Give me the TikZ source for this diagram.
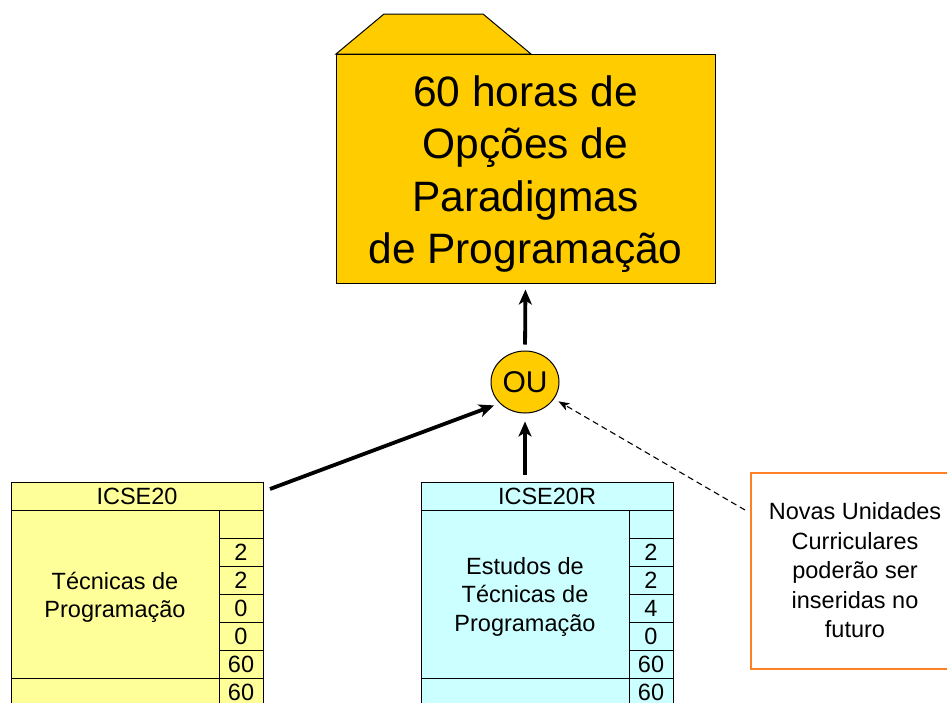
\documentclass[tikz,border=0pt]{standalone}
\usepackage{fontspec}
\setmainfont{Liberation Sans}
\usetikzlibrary{arrows.meta,shapes.geometric}
\definecolor{folderfill}{HTML}{FFCC00}
\definecolor{tabyellow}{HTML}{FFFF99}
\definecolor{tabcyan}{HTML}{CCFFFF}
\definecolor{noteorange}{HTML}{FF7F27}
\newcommand{\lowered}[2]{\raisebox{-#1}[\height][\depth]{\begin{tabular}{@{}c@{}}#2\end{tabular}}}
\tikzset{
  cellbox/.style={draw=black, line width=1pt, inner sep=0pt, align=center,
    font=\fontsize{23.5}{28.5}\selectfont},
  arr/.style={line width=3.8pt, -{Stealth[length=15pt,width=13pt,inset=4pt]}},
  darr/.style={line width=1.1pt, dash pattern=on 6pt off 4pt, -{Stealth[length=11pt,width=8pt,inset=3pt]}},
}
\begin{document}
\begin{tikzpicture}[x=1pt,y=-1pt]
\useasboundingbox (0,0) rectangle (947,702);
\clip (0,0) rectangle (947,702);
% folder
\draw[fill=folderfill, line width=1pt] (336,54) -- (384,14) -- (483,14) -- (531,54) -- cycle;
\node[draw=black, fill=folderfill, line width=1pt, minimum width=379pt, minimum height=229pt,
  inner sep=0pt, align=center, font=\fontsize{42.5}{52.5}\selectfont] (folder) at (525.5,168.5)
  {\lowered{6pt}{60 horas de\\Opções de\\Paradigmas\\de Programação}};
% OU
\node[ellipse, draw=black, fill=folderfill, line width=1pt, minimum width=68pt, minimum height=62pt,
  inner sep=0pt, font=\fontsize{30}{34}\selectfont] (ou) at (525,382) {OU};
% left table
\node[cellbox, fill=tabyellow, minimum width=252pt, minimum height=28pt] (h1) at (137,496) {ICSE20};
\node[cellbox, fill=tabyellow, minimum width=208pt, minimum height=168pt] (m1) at (115,594) {\lowered{4pt}{Técnicas de\\Programação}};
\node[cellbox, fill=tabyellow, minimum width=44pt, minimum height=28pt] (c10) at (241,524) {};
\node[cellbox, fill=tabyellow, minimum width=44pt, minimum height=28pt] (c11) at (241,552) {2};
\node[cellbox, fill=tabyellow, minimum width=44pt, minimum height=28pt] (c12) at (241,580) {2};
\node[cellbox, fill=tabyellow, minimum width=44pt, minimum height=28pt] (c13) at (241,608) {0};
\node[cellbox, fill=tabyellow, minimum width=44pt, minimum height=28pt] (c14) at (241,636) {0};
\node[cellbox, fill=tabyellow, minimum width=44pt, minimum height=28pt] (c15) at (241,664) {60};
\node[cellbox, fill=tabyellow, minimum width=208pt, minimum height=28pt] (b1) at (115,692) {};
\node[cellbox, fill=tabyellow, minimum width=44pt, minimum height=28pt] (c16) at (241,692) {60};
% right table
\node[cellbox, fill=tabcyan, minimum width=252pt, minimum height=28pt] (h2) at (547,496) {ICSE20R};
\node[cellbox, fill=tabcyan, minimum width=208pt, minimum height=168pt] (m2) at (525,594) {\lowered{3pt}{Estudos de\\Técnicas de\\Programação}};
\node[cellbox, fill=tabcyan, minimum width=44pt, minimum height=28pt] (c20) at (651,524) {};
\node[cellbox, fill=tabcyan, minimum width=44pt, minimum height=28pt] (c21) at (651,552) {2};
\node[cellbox, fill=tabcyan, minimum width=44pt, minimum height=28pt] (c22) at (651,580) {2};
\node[cellbox, fill=tabcyan, minimum width=44pt, minimum height=28pt] (c23) at (651,608) {4};
\node[cellbox, fill=tabcyan, minimum width=44pt, minimum height=28pt] (c24) at (651,636) {0};
\node[cellbox, fill=tabcyan, minimum width=44pt, minimum height=28pt] (c25) at (651,664) {60};
\node[cellbox, fill=tabcyan, minimum width=208pt, minimum height=28pt] (b2) at (525,692) {};
\node[cellbox, fill=tabcyan, minimum width=44pt, minimum height=28pt] (c26) at (651,692) {60};
% note
\node[draw=noteorange, line width=1.6pt, minimum width=208pt, minimum height=196pt, inner sep=0pt,
  align=center, font=\fontsize{23.5}{29.5}\selectfont] (note) at (855,571)
  {\lowered{2pt}{Novas Unidades\\Curriculares\\poderão ser\\inseridas no\\futuro}};
% connectors
\coordinate (s1) at (270,489);
\coordinate (s2) at (525,482);
\coordinate (s3) at (745,510);
\draw[arr, shorten <=6pt, shorten >=6pt] (ou.north) -- (folder.south);
\draw[arr, shorten <=7pt, shorten >=8pt] (s2) -- (ou.south);
\draw[arr, shorten >=6pt] (s1) -- (ou.220);
\draw[darr, shorten >=5pt] (s3) -- (ou.-30);
\end{tikzpicture}
\end{document}
